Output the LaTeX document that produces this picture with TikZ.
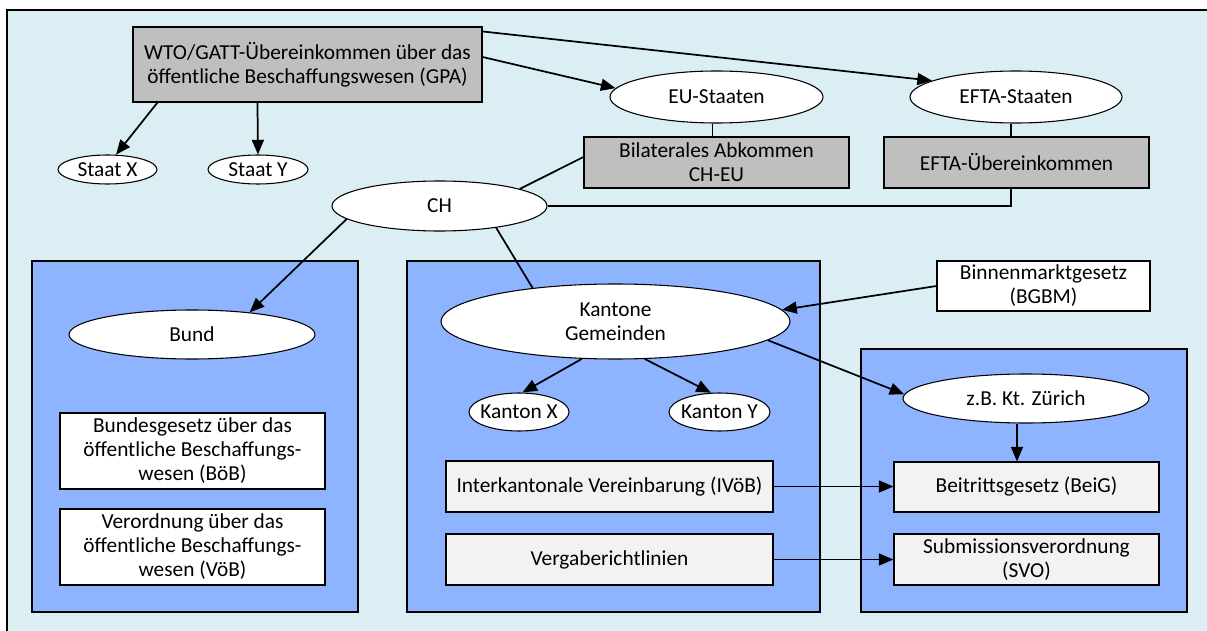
\documentclass[tikz,border=0pt]{standalone}
\usepackage{fontspec}
\setmainfont{Carlito}
\usetikzlibrary{shapes.geometric,arrows.meta,calc}
\definecolor{bgblue}{RGB}{218,238,243}
\definecolor{boxblue}{RGB}{142,180,255}
\definecolor{gpagray}{RGB}{191,191,191}
\definecolor{lightgray}{RGB}{242,242,242}
\begin{document}
\begin{tikzpicture}[x=0.75pt,y=-0.75pt,
  every node/.style={font=\fontsize{16}{18}\selectfont, align=center, inner sep=0pt},
  sz/.style 2 args={minimum width=#1*0.75pt, minimum height=#2*0.75pt},
  ell/.style={ellipse, draw, fill=white, line width=0.8pt},
  rbox/.style={rectangle, draw, line width=0.8pt},
  area/.style={rectangle, draw, fill=boxblue, line width=0.8pt},
  conn/.style={line width=1.3pt},
  arr/.style={conn, -{Triangle[length=11pt,width=9pt]}}]
\clip (0,0) rectangle (1207,631);
\useasboundingbox (0,0) rectangle (1207,631);
\draw[fill=bgblue, line width=0.8pt] (7,10) rectangle (1230,660);

% areas
\node[area,sz={326}{351}] (bundarea) at (195,436.5) {};
\node[area,sz={413}{351}] (kantarea) at (613.5,436.5) {};
\node[area,sz={326}{263}] (zharea) at (1024,480.5) {};

% top level
\node[rbox,fill=gpagray,sz={349}{75}] (gpa) at (307.5,64.5) {WTO/GATT-Übereinkommen über das\\öffentliche Beschaffungswesen (GPA)};
\node[ell,sz={99}{29}] (staatx) at (107.5,169.5) {Staat X};
\node[ell,sz={100}{29}] (staaty) at (258,169.5) {Staat Y};
\node[ell,sz={213}{52}] (eu) at (716.5,97) {EU-Staaten};
\node[ell,sz={212}{52}] (efta) at (1016,97) {EFTA-Staaten};
\node[rbox,fill=gpagray,sz={265}{51}] (bilat) at (716.5,162.5) {Bilaterales Abkommen\\CH-EU};
\node[rbox,fill=gpagray,sz={265}{51}] (eftau) at (1016.5,162.5) {EFTA-Übereinkommen};
\node[ell,sz={215}{50}] (ch) at (439.5,206) {CH};

% Bund
\node[ell,sz={246}{49}] (bund) at (192,334.5) {Bund};
\node[rbox,fill=white,sz={265}{76}] (boeb) at (192.5,451) {Bundesgesetz über das\\öffentliche Beschaffungs-\\wesen (BöB)};
\node[rbox,fill=white,sz={265}{76}] (voeb) at (192.5,547) {Verordnung über das\\öffentliche Beschaffungs-\\wesen (VöB)};

% Kantone
\node[ell,sz={349}{75}] (kant) at (615.5,321.5) {Kantone\\Gemeinden};
\node[ell,sz={100}{38},inner xsep=-4pt] (kx) at (519,412) {Kanton X};
\node[ell,sz={101}{38},inner xsep=-4pt] (ky) at (719.5,412) {Kanton Y};
\node[rbox,fill=lightgray,sz={327}{51}] (ivoeb) at (609.5,486.5) {Interkantonale Vereinbarung (IVöB)};
\node[rbox,fill=lightgray,sz={327}{51}] (vrl) at (609.5,559.5) {Vergaberichtlinien};

% Zuerich
\node[rbox,fill=white,sz={213}{50}] (bgbm) at (1043.5,286) {Binnenmarktgesetz\\(BGBM)};
\node[ell,sz={246}{49}] (zh) at (1026,398.5) {z.B. Kt. Zürich};
\node[rbox,fill=lightgray,sz={265}{50}] (beig) at (1026.5,487) {Beitrittsgesetz (BeiG)};
\node[rbox,fill=lightgray,sz={265}{51}] (svo) at (1026.5,559.5) {Submissionsverordnung\\(SVO)};

% connectors
\draw[arr] ($(gpa.south west)+(25,0)$) -- (staatx.60);
\draw[arr] ($(gpa.south west)+(125,0)$) -- (staaty.north);
\draw[arr] ($(gpa.east)+(0,-7.5)$) -- (eu.175);
\draw[arr] ($(gpa.north east)+(0,5)$) -- (efta.169);
\draw[conn] ($(eu.south)+(-4,0)$) -- ($(eu.south |- bilat.north)+(-4,0)$);
\draw[conn] ($(efta.south)+(-5,0)$) -- ($(efta.south |- eftau.north)+(-5,0)$);
\draw[conn] ($(bilat.west)+(0,-5.5)$) -- (ch.12);
\draw[conn] ($(eftau.south)+(-5.5,0)$) |- (ch.east);
\draw[arr] (ch.188) -- (bund.21);
\draw[conn] (ch.-21) -- (kant.158);
\draw[arr] (bgbm.west) -- (kant.4);
\draw[arr] (kant.228) -- (kx.80);
\draw[arr] (kant.-52) -- (ky.114);
\draw[arr] (kant.-7) -- (zh.178);
\draw[arr] ($(zh.south)+(-9,0)$) -- ($(beig.north)+(-9.5,0)$);
\draw[arr] (ivoeb.east) -- (ivoeb.east -| beig.west);
\draw[arr] (vrl.east) -- (vrl.east -| svo.west);
\end{tikzpicture}
\end{document}
